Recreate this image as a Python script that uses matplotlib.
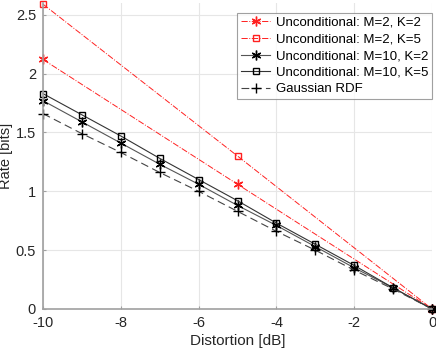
import matplotlib
matplotlib.use("Agg")
import matplotlib.pyplot as plt

plt.rcParams['font.family'] = ['Liberation Sans', 'DejaVu Sans']
plt.rcParams['axes.unicode_minus'] = False

dist_full = [-10, -9, -8, -7, -6, -5, -4, -3, -2, -1, 0]
dist_coarse = [-10, -5, 0]

m2k2 = [2.12, 1.06, 0.0]
m2k5 = [2.59, 1.30, 0.0]
m10k2 = [1.77, 1.59, 1.41, 1.23, 1.06, 0.88, 0.71, 0.53, 0.35, 0.18, 0.0]
m10k5 = [1.83, 1.65, 1.47, 1.28, 1.10, 0.92, 0.73, 0.55, 0.37, 0.18, 0.0]
gauss = [1.66, 1.49, 1.33, 1.16, 1.00, 0.83, 0.66, 0.50, 0.33, 0.17, 0.0]

labels = ["Unconditional: M=2, K=2", "Unconditional: M=2, K=5",
          "Unconditional: M=10, K=2", "Unconditional: M=10, K=5",
          "Gaussian RDF"]

fig = plt.figure(figsize=(4.36, 3.51), dpi=100)
ax = fig.add_axes([43/436, 42/351, 389/436, 306/351])

red = '#ff2020'
ast = (6, 2, 0)
ax.plot(dist_coarse, m2k2, linestyle='-.', color=red, lw=0.7, marker=ast,
        markersize=7, markeredgecolor=red, mew=1.0, label=labels[0], clip_on=False)
ax.plot(dist_coarse, m2k5, linestyle='-.', color=red, lw=0.7, marker='s',
        markersize=5, markeredgecolor=red, markerfacecolor='none', label=labels[1], clip_on=False)
ax.plot(dist_full, m10k2, linestyle='-', color='#555555', lw=0.8, marker=ast,
        markersize=7, markeredgecolor='black', mew=1.0, label=labels[2], clip_on=False)
ax.plot(dist_full, m10k5, linestyle='-', color='#333333', lw=0.8, marker='s',
        markersize=5, markeredgecolor='black', markerfacecolor='none', label=labels[3], clip_on=False)
ax.plot(dist_full, gauss, linestyle=(0, (7, 4)), color='#444444', lw=0.8, marker='+',
        markersize=7, markeredgecolor='black', mew=1.0, label=labels[4], clip_on=False)

ax.set_xlim(-10, 0)
ax.set_ylim(0, 2.6)
ax.set_xticks([-10, -8, -6, -4, -2, 0])
ax.set_yticks([0, 0.5, 1, 1.5, 2, 2.5])
ax.set_yticklabels(['0', '0.5', '1', '1.5', '2', '2.5'])
ax.grid(True, color='#e6e6e6', lw=0.8)
ax.set_axisbelow(True)
for s in ['top', 'right']:
    ax.spines[s].set_visible(False)
for s in ['left', 'bottom']:
    ax.spines[s].set_color('#a0a0a0')
    ax.spines[s].set_linewidth(1.2)
ax.tick_params(axis='both', colors='#a0a0a0', labelcolor='#262626', labelsize=10.5,
               direction='in', length=2)
ax.tick_params(axis='x', pad=5)
ax.tick_params(axis='y', pad=5)
ax.set_xlabel('Distortion [dB]', fontsize=11, color='#262626', labelpad=3)
ax.set_ylabel('Rate [bits]', fontsize=10.5, color='#262626')
ax.yaxis.set_label_coords(-0.078, 0.5)

leg = ax.legend(loc='upper right', bbox_to_anchor=(1.0, 0.968), fontsize=9.5, frameon=True,
                fancybox=False, edgecolor='#888888', handlelength=2.2, handletextpad=0.4,
                borderpad=0.3, labelspacing=0.33, borderaxespad=0.0)
leg.get_frame().set_linewidth(0.8)

fig.savefig('out.png', dpi=100)
